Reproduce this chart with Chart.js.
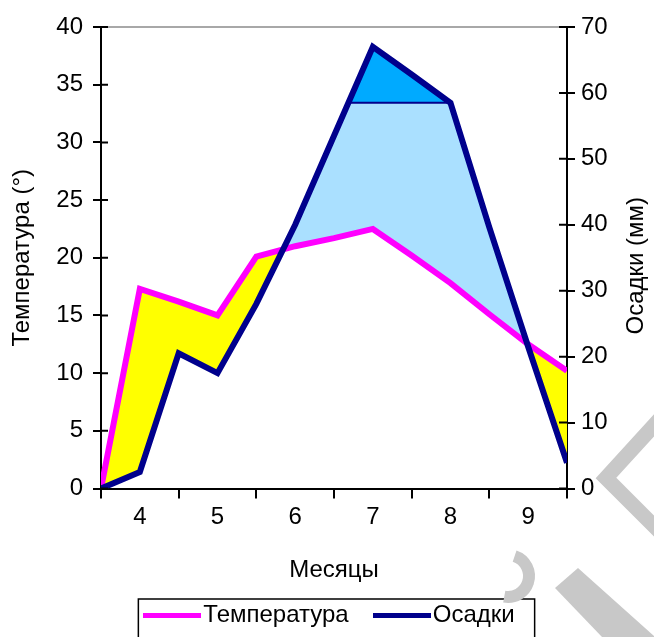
<!DOCTYPE html>
<html>
<head>
<meta charset="utf-8">
<script src="https://cdn.jsdelivr.net/npm/chart.js@4.4.1/dist/chart.umd.min.js"></script>
<style>
    html, body { margin: 0; padding: 0; background: #fff; }
    canvas { display: block; }
</style>
</head>
<body>
<canvas id="climateChart" width="654" height="637"></canvas>
<script>
// x runs in half-month steps: 0 = start of April ... 12 = end of September
const months = ['4', '5', '6', '7', '8', '9'];
const temperature = [0, 17.3, 16.2, 15, 20.1, 21, 21.7, 22.5, 20.2, 17.8, 15.1, 12.5, 10.2];
const precipitation = [0, 2.5, 20.5, 17.5, 28, 40, 53.5, 67, 62.8, 58.5, 39.6, 21.5, 3.9];
const wetLimit = 58.5;

const toPoints = values => values.map((v, i) => ({ x: i, y: v }));

// where the precipitation line goes over / under the limit
function risingCross(values, level) {
    for (let i = 1; i < values.length; i++) {
        if (values[i - 1] < level && values[i] >= level) {
            return i - 1 + (level - values[i - 1]) / (values[i] - values[i - 1]);
        }
    }
    return 0;
}
function fallingCross(values, level) {
    for (let i = values.length - 1; i > 0; i--) {
        if (values[i - 1] >= level && values[i] < level) {
            return i - 1 + (values[i - 1] - level) / (values[i - 1] - values[i]);
        }
    }
    return values.length - 1;
}

// legend sample: a thick line that runs right up to the text
function legendLine(color) {
    const c = document.createElement('canvas');
    c.width = 58;
    c.height = 5;
    const g = c.getContext('2d');
    g.fillStyle = color;
    g.fillRect(0, 0, 58, 5);
    return c;
}

const navy = '#00008C';
const magenta = '#FF00FF';

Chart.defaults.font.family = '"Liberation Sans", Arial, sans-serif';
Chart.defaults.font.size = 24;
Chart.defaults.color = '#000';

const decorations = {
    id: 'decorations',
    afterDraw(chart) {
        const { ctx, chartArea: area, scales } = chart;
        ctx.save();

        // grey top edge of the plot
        ctx.strokeStyle = '#a8a8a8';
        ctx.lineWidth = 2;
        ctx.beginPath();
        ctx.moveTo(area.left, area.top);
        ctx.lineTo(area.right, area.top);
        ctx.stroke();

        // inner halves of the y tick marks
        ctx.strokeStyle = '#000';
        ctx.lineWidth = 2;
        ctx.beginPath();
        scales.y.ticks.forEach((t, i) => {
            const py = scales.y.getPixelForTick(i);
            ctx.moveTo(area.left, py);
            ctx.lineTo(area.left + 7, py);
        });
        scales.y2.ticks.forEach((t, i) => {
            const py = scales.y2.getPixelForTick(i);
            ctx.moveTo(area.right - 8, py);
            ctx.lineTo(area.right, py);
        });
        ctx.stroke();

        // right axis title, read bottom to top
        ctx.save();
        ctx.fillStyle = '#000';
        ctx.font = '24px "Liberation Sans", Arial, sans-serif';
        ctx.textAlign = 'center';
        ctx.textBaseline = 'middle';
        ctx.translate(636, (area.top + area.bottom) / 2 + 8);
        ctx.rotate(-Math.PI / 2);
        ctx.fillText('Осадки (мм)', 0, 0);
        ctx.restore();

        // frame round the legend
        const boxes = chart.legend.legendHitBoxes;
        if (boxes.length) {
            const first = boxes[0];
            const last = boxes[boxes.length - 1];
            const cy = first.top + first.height / 2;
            const left = first.left - 15;
            const right = last.left + last.width + 20;
            const top = cy - 16;
            ctx.strokeStyle = '#000';
            ctx.lineWidth = 1.5;
            ctx.strokeRect(left, top, right - left, chart.height - top + 10);
        }

        // watermark pieces in the corner
        ctx.strokeStyle = '#c8c8c8';
        ctx.fillStyle = '#c8c8c8';
        ctx.lineCap = 'butt';
        ctx.lineJoin = 'miter';
        ctx.lineWidth = 15;
        ctx.beginPath();
        ctx.moveTo(668, 410);
        ctx.lineTo(606, 478);
        ctx.lineTo(668, 540);
        ctx.stroke();
        ctx.lineWidth = 12;
        ctx.beginPath();
        ctx.arc(508, 576, 21, -1.25, 1.75);
        ctx.stroke();
        ctx.beginPath();
        ctx.moveTo(555, 588);
        ctx.lineTo(578, 568);
        ctx.lineTo(655, 637);
        ctx.lineTo(602, 637);
        ctx.closePath();
        ctx.fill();

        ctx.restore();
    }
};

const wetStart = risingCross(precipitation, wetLimit);
const wetEnd = fallingCross(precipitation, wetLimit);

new Chart(document.getElementById('climateChart'), {
    type: 'line',
    data: {
        datasets: [
            {
                // thin line that closes the top (wet) part
                label: 'limit-line',
                data: [{ x: wetStart, y: wetLimit }, { x: wetEnd, y: wetLimit }],
                yAxisID: 'y2',
                borderColor: navy,
                borderWidth: 2,
                pointRadius: 0,
                fill: false
            },
            {
                // invisible level line, fills up to the precipitation where it is higher
                label: 'limit-fill',
                data: toPoints(precipitation.map(() => wetLimit)),
                yAxisID: 'y2',
                borderColor: 'rgba(0,0,0,0)',
                borderWidth: 0,
                pointRadius: 0,
                fill: { target: 2, above: 'rgba(0,0,0,0)', below: '#00AAFF' }
            },
            {
                label: 'Осадки',
                data: toPoints(precipitation),
                yAxisID: 'y2',
                borderColor: navy,
                backgroundColor: navy,
                borderWidth: 6,
                pointRadius: 0,
                pointStyle: legendLine(navy),
                fill: false
            },
            {
                label: 'Температура',
                data: toPoints(temperature),
                yAxisID: 'y',
                borderColor: magenta,
                backgroundColor: magenta,
                borderWidth: 6,
                pointRadius: 0,
                pointStyle: legendLine(magenta),
                fill: { target: 2, above: '#FFFF00', below: '#AAE0FF' }
            }
        ]
    },
    options: {
        responsive: false,
        animation: false,
        layout: {
            padding: { top: 27, right: 0, bottom: 0, left: 0 }
        },
        plugins: {
            filler: { drawTime: 'beforeDatasetsDraw' },
            tooltip: { enabled: false },
            legend: {
                position: 'bottom',
                fullSize: false,
                labels: {
                    usePointStyle: true,
                    pointStyleWidth: 38,
                    padding: 34,
                    color: '#000',
                    font: { size: 24 },
                    filter: item => item.datasetIndex === 2 || item.datasetIndex === 3,
                    sort: (a, b) => b.datasetIndex - a.datasetIndex
                }
            }
        },
        scales: {
            x: {
                type: 'linear',
                min: 0,
                max: 12,
                afterFit: s => { s.height = 80.5; },
                border: { color: '#000', width: 2 },
                grid: {
                    drawOnChartArea: false,
                    tickLength: 10,
                    lineWidth: 2,
                    tickColor: ctx => (ctx.tick && ctx.tick.value % 2 === 0) ? '#000' : 'rgba(0,0,0,0)'
                },
                ticks: {
                    stepSize: 1,
                    autoSkip: false,
                    maxRotation: 0,
                    padding: 4,
                    callback: v => (v % 2 === 1 ? months[(v - 1) / 2] : '')
                },
                title: {
                    display: true,
                    text: 'Месяцы',
                    padding: { top: 0, bottom: -16 }
                }
            },
            y: {
                position: 'left',
                min: 0,
                max: 40,
                afterFit: s => { s.width = 101; },
                border: { color: '#000', width: 2 },
                grid: { drawOnChartArea: false, tickLength: 8, color: '#000', lineWidth: 2 },
                ticks: { stepSize: 5, padding: 10 },
                title: {
                    display: true,
                    text: 'Температура (°)',
                    padding: { top: 8, bottom: 0 }
                }
            },
            y2: {
                position: 'right',
                min: 0,
                max: 70,
                afterFit: s => { s.width = 87; },
                border: { color: '#000', width: 2 },
                grid: { drawOnChartArea: false, tickLength: 8, color: '#000', lineWidth: 2 },
                ticks: { stepSize: 10, padding: 6 }
            }
        }
    },
    plugins: [decorations]
});
</script>
</body>
</html>
